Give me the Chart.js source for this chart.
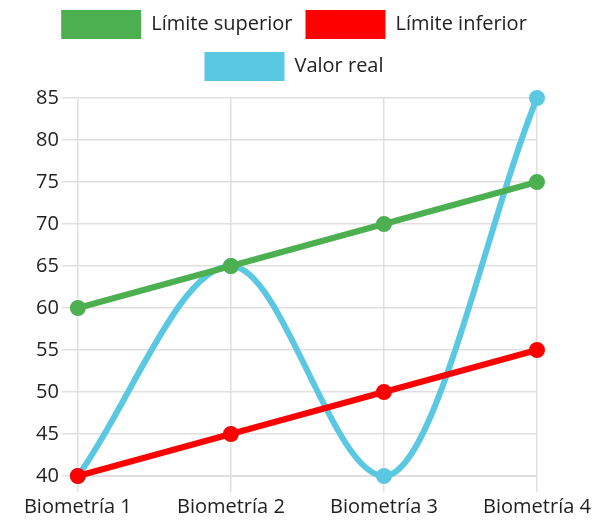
<!DOCTYPE html>
<html>
<head>
<meta charset="utf-8">
<script src="https://cdn.jsdelivr.net/npm/chart.js@4/dist/chart.umd.min.js"></script>
<style>
  html, body { margin: 0; padding: 0; background: #fff; }
  #wrap { width: 595px; height: 522px; }
</style>
</head>
<body>
<div id="wrap"><canvas id="c"></canvas></div>
<script>
const categorias = ['Biometría 1', 'Biometría 2', 'Biometría 3', 'Biometría 4'];
const limiteSuperior = [60, 65, 70, 75];
const limiteInferior = [40, 45, 50, 55];
const valorReal = [40, 65, 40, 85];

const serie = (label, data, color) => ({
  label,
  data,
  borderColor: color,
  backgroundColor: color,
  borderWidth: 6,
  pointRadius: 5,
  pointHoverRadius: 5,
  cubicInterpolationMode: 'monotone',
  clip: false,
});

// más aire bajo la leyenda y la leyenda centrada en el lienzo
const legendGap = {
  id: 'legendGap',
  beforeInit(chart) {
    const fit = chart.legend.fit;
    chart.legend.fit = function () {
      fit.call(this);
      this.height += 7;
    };
  },
  afterLayout(chart) {
    chart.legend.left += 9;
    chart.legend.right += 9;
  },
};

new Chart(document.getElementById('c'), {
  type: 'line',
  data: {
    labels: categorias,
    datasets: [
      serie('Límite superior', limiteSuperior, '#4caf50'),
      serie('Límite inferior', limiteInferior, '#ff0000'),
      serie('Valor real', valorReal, '#5bc8e2'),
    ],
  },
  options: {
    responsive: true,
    maintainAspectRatio: false,
    animation: false,
    layout: { padding: { top: -3, left: 33, right: 58, bottom: 0 } },
    plugins: {
      legend: {
        labels: {
          color: '#222',
          font: { family: 'Open Sans', size: 20 },
          boxWidth: 80,
          boxHeight: 29,
          padding: 13,
          generateLabels: chart =>
            Chart.defaults.plugins.legend.labels.generateLabels(chart)
              .map(l => ({ ...l, lineWidth: 0 })),
        },
      },
      tooltip: { enabled: false },
    },
    scales: {
      x: {
        ticks: { color: '#222', font: { family: 'Open Sans', size: 20 }, padding: 3 },
        grid: { color: '#e0e0e0', lineWidth: 1.5, tickLength: 16 },
        border: { color: '#e0e0e0' },
      },
      y: {
        min: 40,
        max: 85,
        ticks: { stepSize: 5, color: '#222', font: { family: 'Open Sans', size: 20 }, padding: 3 },
        grid: { color: '#e0e0e0', lineWidth: 1.5, tickLength: 16 },
        border: { color: '#e0e0e0' },
      },
    },
  },
  plugins: [legendGap],
});
</script>
</body>
</html>
